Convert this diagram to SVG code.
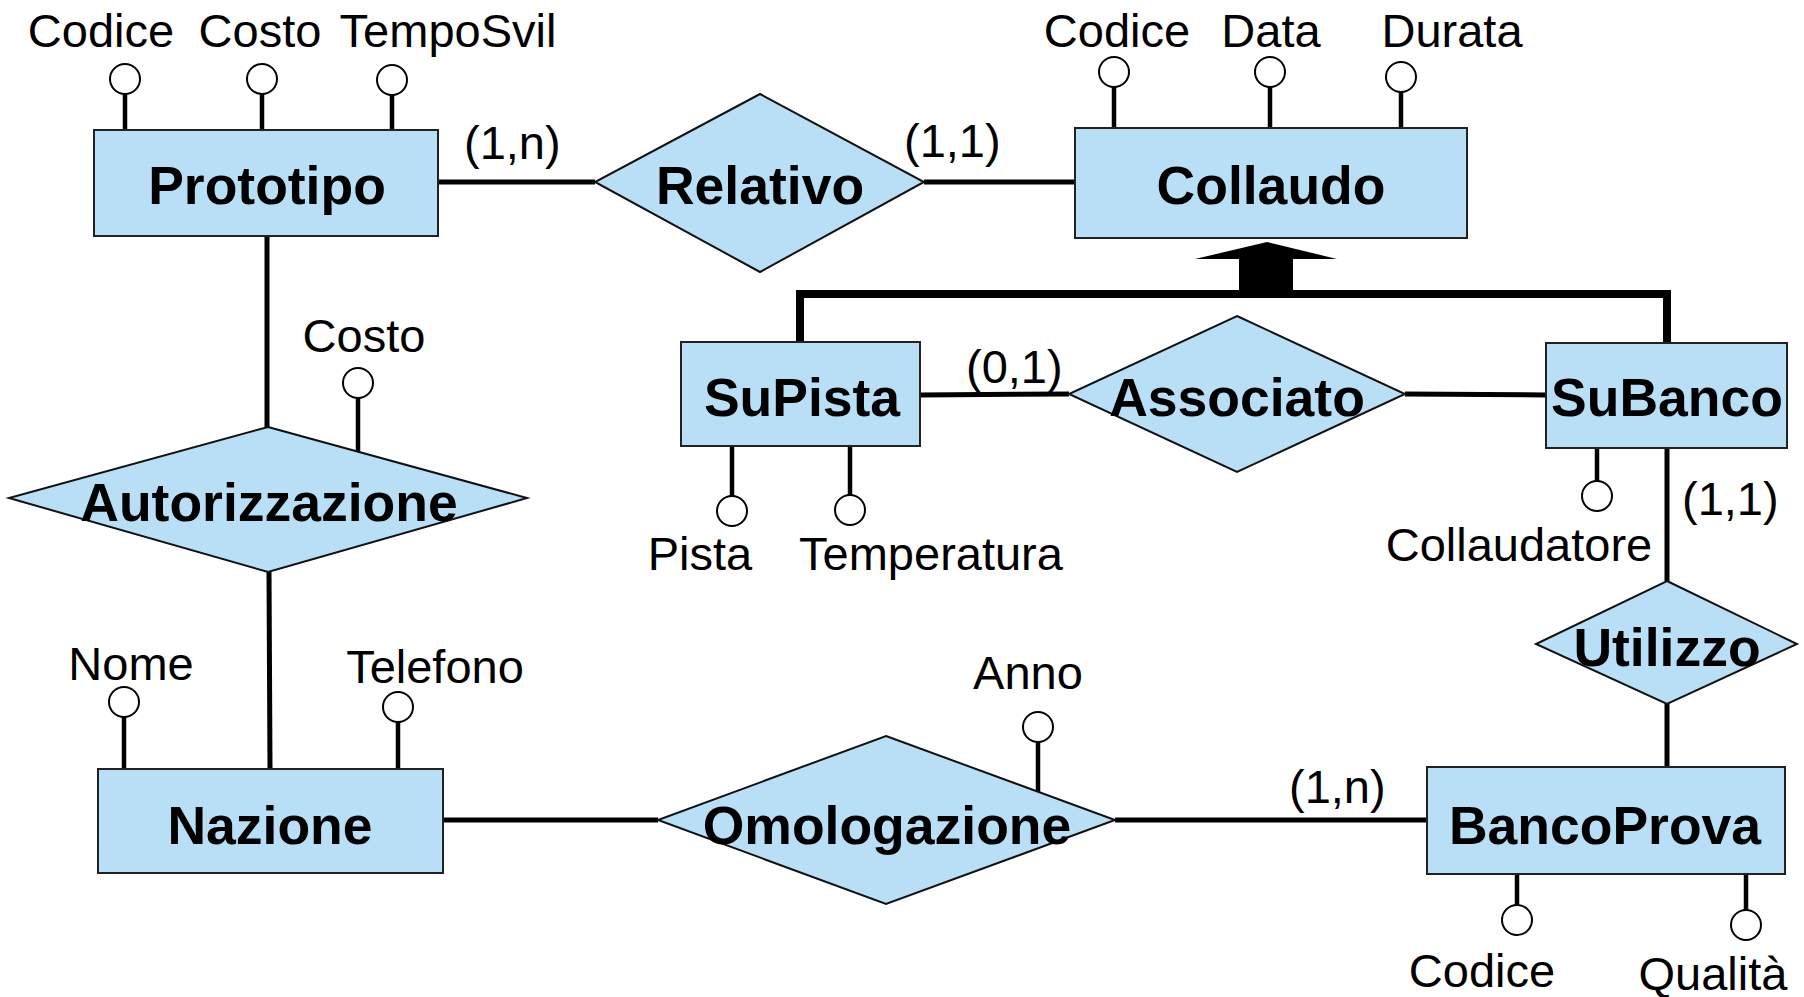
<svg xmlns="http://www.w3.org/2000/svg" width="1804" height="997" viewBox="0 0 1804 997">
<style>
.ent{fill:#b9dff7;stroke:#222;stroke-width:2}
.rel{fill:#b9dff7;stroke:#111;stroke-width:2}
.lbl{font-family:"Liberation Sans",Arial,sans-serif;font-weight:bold;font-size:53.5px;text-anchor:middle;fill:#000}
.att{font-family:"Liberation Sans",Arial,sans-serif;font-size:47px;text-anchor:middle;fill:#000}
.card{font-family:"Liberation Sans",Arial,sans-serif;font-size:47px;fill:#000}
.ac{fill:#fff;stroke:#000;stroke-width:2}
.stem{stroke:#000;stroke-width:4.5}
.con{stroke:#000;stroke-width:5;fill:none}
</style>
<rect width="1804" height="997" fill="#fff"/>
<g id="connectors">
<line class="con" x1="438" y1="182" x2="595" y2="182"/>
<line class="con" x1="924" y1="182" x2="1075" y2="182"/>
<line class="con" x1="267" y1="236" x2="267" y2="427"/>
<line class="con" x1="269" y1="572" x2="270" y2="769"/>
<line class="con" x1="443" y1="820" x2="658" y2="820"/>
<line class="con" x1="1115" y1="820" x2="1427" y2="820"/>
<line class="con" x1="920" y1="395" x2="1069" y2="394"/>
<line class="con" x1="1405" y1="394" x2="1546" y2="395"/>
<line class="con" x1="1667" y1="448" x2="1667" y2="581"/>
<line class="con" x1="1667" y1="704" x2="1667" y2="767"/>
<polyline points="800,342 800,294 1667,294 1667,343" fill="none" stroke="#000" stroke-width="8"/>
<polygon points="1267,242 1337,259 1293,259 1293,294 1239,294 1239,259 1195,259" fill="#000"/>
<text class="card" x="464" y="159">(1,n)</text>
<text class="card" x="904" y="157">(1,1)</text>
<text class="card" x="966" y="383">(0,1)</text>
<text class="card" x="1682" y="515">(1,1)</text>
<text class="card" x="1289" y="803">(1,n)</text>
</g>
<g id="Prototipo">
<line class="stem" x1="125" y1="94" x2="125" y2="130"/>
<line class="stem" x1="262" y1="94" x2="262" y2="130"/>
<line class="stem" x1="392" y1="95" x2="392" y2="130"/>
<circle class="ac" cx="125" cy="79" r="15"/>
<circle class="ac" cx="262" cy="79" r="15"/>
<circle class="ac" cx="392" cy="80" r="15"/>
<text class="att" x="101" y="47">Codice</text>
<text class="att" x="260" y="47">Costo</text>
<text class="att" x="448" y="47">TempoSvil</text>
<rect class="ent" x="94" y="130" width="344" height="106"/>
<text class="lbl" x="267" y="204">Prototipo</text>
</g>
<g id="Relativo">
<polygon class="rel" points="760,94 924,182 760,272 595,182"/>
<text class="lbl" x="760" y="204">Relativo</text>
</g>
<g id="Collaudo">
<line class="stem" x1="1114" y1="87" x2="1114" y2="128"/>
<line class="stem" x1="1270" y1="87" x2="1270" y2="128"/>
<line class="stem" x1="1401" y1="92" x2="1401" y2="128"/>
<circle class="ac" cx="1114" cy="72" r="15"/>
<circle class="ac" cx="1270" cy="72" r="15"/>
<circle class="ac" cx="1401" cy="77" r="15"/>
<text class="att" x="1117" y="47">Codice</text>
<text class="att" x="1271" y="47">Data</text>
<text class="att" x="1452" y="47">Durata</text>
<rect class="ent" x="1075" y="128" width="392" height="110"/>
<text class="lbl" x="1271" y="204">Collaudo</text>
</g>
<g id="Autorizzazione">
<line class="stem" x1="358" y1="398" x2="358" y2="452"/>
<circle class="ac" cx="358" cy="383" r="15"/>
<text class="att" x="364" y="352">Costo</text>
<polygon class="rel" points="268,427 527,498 268,572 9,498"/>
<text class="lbl" x="269" y="521">Autorizzazione</text>
</g>
<g id="SuPista">
<line class="stem" x1="732" y1="446" x2="732" y2="496"/>
<line class="stem" x1="850" y1="446" x2="850" y2="495"/>
<circle class="ac" cx="732" cy="511" r="15"/>
<circle class="ac" cx="850" cy="510" r="15"/>
<text class="att" x="700" y="570">Pista</text>
<text class="att" x="931" y="570">Temperatura</text>
<rect class="ent" x="681" y="342" width="239" height="104"/>
<text class="lbl" x="802" y="416">SuPista</text>
</g>
<g id="Associato">
<polygon class="rel" points="1237,316 1405,394 1237,472 1069,394"/>
<text class="lbl" x="1237" y="416">Associato</text>
</g>
<g id="SuBanco">
<line class="stem" x1="1597" y1="448" x2="1597" y2="481"/>
<circle class="ac" cx="1597" cy="496" r="15"/>
<text class="att" x="1519" y="561">Collaudatore</text>
<rect class="ent" x="1546" y="343" width="241" height="105"/>
<text class="lbl" x="1667" y="416">SuBanco</text>
</g>
<g id="Utilizzo">
<polygon class="rel" points="1667,581 1797,644 1667,704 1536,644"/>
<text class="lbl" x="1667" y="666">Utilizzo</text>
</g>
<g id="Nazione">
<line class="stem" x1="124" y1="717" x2="124" y2="769"/>
<line class="stem" x1="398" y1="722" x2="398" y2="769"/>
<circle class="ac" cx="124" cy="702" r="15"/>
<circle class="ac" cx="398" cy="707" r="15"/>
<text class="att" x="131" y="680">Nome</text>
<text class="att" x="435" y="683">Telefono</text>
<rect class="ent" x="98" y="769" width="345" height="104"/>
<text class="lbl" x="270" y="844">Nazione</text>
</g>
<g id="Omologazione">
<line class="stem" x1="1038" y1="742" x2="1038" y2="792"/>
<circle class="ac" cx="1038" cy="727" r="15"/>
<text class="att" x="1028" y="689">Anno</text>
<polygon class="rel" points="886,736 1115,820 886,904 658,820"/>
<text class="lbl" x="887" y="844">Omologazione</text>
</g>
<g id="BancoProva">
<line class="stem" x1="1517" y1="874" x2="1517" y2="905"/>
<line class="stem" x1="1746" y1="874" x2="1746" y2="910"/>
<circle class="ac" cx="1517" cy="920" r="15"/>
<circle class="ac" cx="1746" cy="925" r="15"/>
<text class="att" x="1482" y="987">Codice</text>
<text class="att" x="1713" y="990">Qualità</text>
<rect class="ent" x="1427" y="767" width="358" height="107"/>
<text class="lbl" x="1605" y="844">BancoProva</text>
</g>
</svg>
